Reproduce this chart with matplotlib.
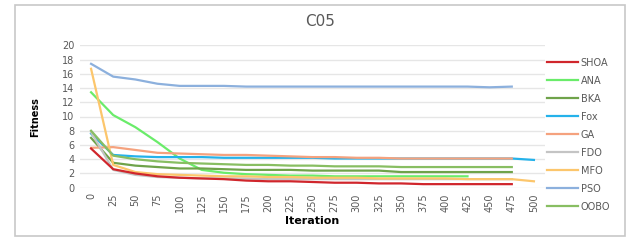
import matplotlib
matplotlib.use("Agg")
from matplotlib import pyplot as plt
from matplotlib.patches import Rectangle

iterations = [str(i) for i in range(0, 501, 25)]

shoa = [5.5, 2.6, 2.0, 1.6, 1.4, 1.3, 1.2, 1.0, 0.9, 0.9, 0.8, 0.7, 0.7, 0.6, 0.6, 0.5, 0.5, 0.5, 0.5, 0.5]
ana = [13.4, 10.2, 8.5, 6.4, 4.1, 2.5, 2.1, 1.9, 1.8, 1.7, 1.7, 1.6, 1.6, 1.6, 1.6, 1.6, 1.6, 1.6]
bka = [7.0, 3.5, 3.1, 2.9, 2.7, 2.7, 2.6, 2.5, 2.5, 2.5, 2.4, 2.4, 2.4, 2.4, 2.2, 2.2, 2.2, 2.2, 2.2, 2.2]
fox = [7.6, 4.6, 4.4, 4.3, 4.3, 4.3, 4.2, 4.2, 4.2, 4.2, 4.2, 4.1, 4.1, 4.1, 4.1, 4.1, 4.1, 4.1, 4.1, 4.1, 3.9]
ga = [5.6, 5.7, 5.3, 4.9, 4.8, 4.7, 4.6, 4.6, 4.5, 4.4, 4.3, 4.3, 4.2, 4.2, 4.1, 4.1, 4.1, 4.1, 4.1, 4.1]
fdo = [7.8, 2.5, 1.8, 1.5, 1.4, 1.3, 1.3, 1.3, 1.2, 1.2, 1.2, 1.2, 1.2, 1.2, 1.2, 1.2, 1.2, 1.2, 1.2, 1.2]
mfo = [16.7, 3.2, 2.2, 1.9, 1.8, 1.7, 1.6, 1.6, 1.5, 1.5, 1.4, 1.4, 1.4, 1.3, 1.3, 1.3, 1.3, 1.2, 1.2, 1.2, 0.9]
pso = [17.4, 15.6, 15.2, 14.6, 14.3, 14.3, 14.3, 14.2, 14.2, 14.2, 14.2, 14.2, 14.2, 14.2, 14.2, 14.2, 14.2, 14.2, 14.1, 14.2]
oobo = [8.0, 4.5, 4.0, 3.7, 3.5, 3.4, 3.3, 3.2, 3.2, 3.1, 3.1, 3.0, 3.0, 3.0, 2.9, 2.9, 2.9, 2.9, 2.9, 2.9]

series = [
    ("SHOA", shoa, "#d0262c"),
    ("ANA", ana, "#6aec6a"),
    ("BKA", bka, "#6fa34a"),
    ("Fox", fox, "#25b2ea"),
    ("GA", ga, "#f5a27e"),
    ("FDO", fdo, "#c4c4c4"),
    ("MFO", mfo, "#fcc66c"),
    ("PSO", pso, "#8cb0dd"),
    ("OOBO", oobo, "#88be62"),
]

fig = plt.figure(figsize=(6.3, 2.41), dpi=100)
fig.patches.append(Rectangle((15 / 630, 5 / 241), 610 / 630, 231 / 241, transform=fig.transFigure,
                             fill=False, edgecolor="#c8c8c8", linewidth=1.2))
ax = fig.add_axes([80 / 630, 1 - 187.7 / 241, 465 / 630, 142.4 / 241])

handles = []
for i, (name, vals, col) in enumerate(series):
    # red on top, like the original
    h, = ax.plot(range(len(vals)), vals, color=col, linewidth=1.6, label=name,
                 zorder=10 - i if name == "SHOA" else 2)
    handles.append(h)

ax.set_xlim(-0.5, len(iterations) - 0.5)
ax.set_ylim(0, 20)
ax.set_yticks(range(0, 21, 2))
ax.set_xticks(range(len(iterations)))
ax.set_xticklabels(iterations, rotation=90)
ax.tick_params(axis="both", length=0, labelsize=7, labelcolor="#595959", pad=4)
ax.grid(axis="y", color="#e6e6e6", linewidth=1)
ax.set_axisbelow(True)
for s in ax.spines.values():
    s.set_visible(False)

ax.set_xlabel("Iteration", fontsize=8, fontweight="bold", labelpad=3)
fig.text(35 / 630, 1 - 117 / 241, "Fitness", rotation=90, fontsize=7, fontweight="bold",
         ha="center", va="center")
fig.text(320 / 630, 1 - 22 / 241, "C05", fontsize=11, color="#595959", ha="center", va="center")

fig.legend(handles=handles, loc="upper left", bbox_to_anchor=(538 / 630, 1 - 49 / 241),
           frameon=False, fontsize=7, handlelength=3.2, labelspacing=0.82, handletextpad=0.3,
           labelcolor="#595959")

fig.savefig("out.png", dpi=100)
